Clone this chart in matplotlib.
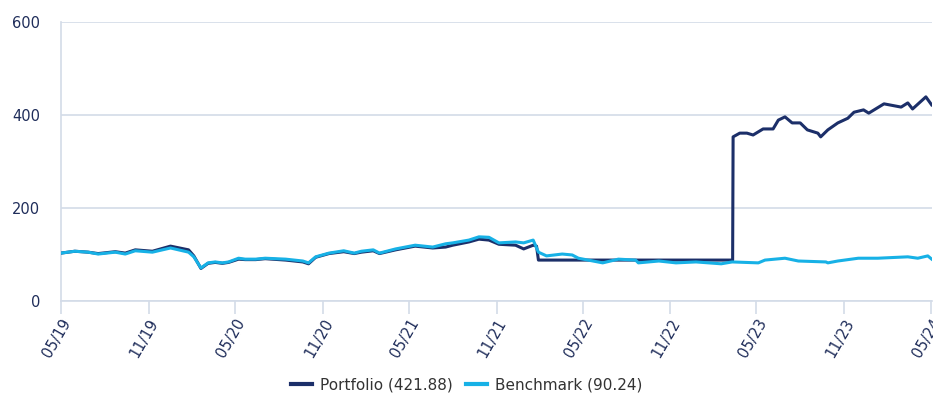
import matplotlib.pyplot as plt
import pandas as pd

# Benchmark index level (rebased to 100)
bench_dates = ['2019-05-01', '2019-05-30', '2019-06-27', '2019-07-18', '2019-08-23',
               '2019-09-13', '2019-10-04', '2019-11-09', '2019-12-17', '2020-01-24',
               '2020-02-04', '2020-02-19', '2020-03-05', '2020-03-20', '2020-04-04',
               '2020-04-17', '2020-05-08', '2020-05-22', '2020-06-13', '2020-07-03',
               '2020-08-15', '2020-09-20', '2020-10-02', '2020-10-17', '2020-11-14',
               '2020-12-15', '2021-01-06', '2021-01-21', '2021-02-15', '2021-02-28',
               '2021-04-03', '2021-05-14', '2021-06-20', '2021-07-17', '2021-08-01',
               '2021-09-04', '2021-09-25', '2021-10-16', '2021-11-06', '2021-12-11',
               '2021-12-28', '2022-01-17', '2022-01-28', '2022-02-14', '2022-03-19',
               '2022-04-09', '2022-04-22', '2022-06-12', '2022-07-15', '2022-08-20',
               '2022-08-26', '2022-10-08', '2022-11-13', '2022-12-25', '2023-02-16',
               '2023-03-11', '2023-05-05', '2023-05-19', '2023-06-30', '2023-07-28',
               '2023-09-24', '2023-09-28', '2023-10-19', '2023-12-01', '2024-01-11',
               '2024-03-14', '2024-04-04', '2024-04-25', '2024-05-03']
bench_vals = [103, 107, 105, 101, 105, 101, 108, 105, 114, 105,
              95, 71, 82, 84, 82, 84, 92, 90, 90, 92,
              90, 86, 82, 95, 103, 108, 103, 107, 110, 103,
              112, 120, 116, 123, 125, 131, 138, 137, 125, 127,
              125, 131, 105, 97, 101, 99, 92, 82, 90, 88,
              82, 86, 82, 84, 80, 84, 82, 88, 92, 86,
              84, 82, 86, 92, 92, 95, 92, 97, 90.24]

# Portfolio level (rebased to 100)
port_dates = ['2019-05-01', '2019-05-30', '2019-06-27', '2019-07-18', '2019-08-23',
              '2019-09-13', '2019-10-04', '2019-11-09', '2019-12-17', '2020-01-24',
              '2020-02-04', '2020-02-19', '2020-03-05', '2020-03-20', '2020-04-04',
              '2020-04-17', '2020-05-08', '2020-05-22', '2020-06-13', '2020-07-03',
              '2020-08-15', '2020-09-20', '2020-10-02', '2020-10-17', '2020-11-14',
              '2020-12-15', '2021-01-06', '2021-01-21', '2021-02-15', '2021-02-28',
              '2021-04-03', '2021-05-14', '2021-06-20', '2021-07-17', '2021-08-01',
              '2021-09-04', '2021-09-25', '2021-10-16', '2021-11-06', '2021-12-11',
              '2021-12-28', '2022-01-17', '2022-01-24', '2022-01-28', '2023-03-12',
              '2023-03-13', '2023-03-27', '2023-04-11', '2023-04-24', '2023-05-15',
              '2023-06-05', '2023-06-16', '2023-06-30', '2023-07-15', '2023-08-01',
              '2023-08-16', '2023-09-07', '2023-09-13', '2023-09-28', '2023-10-19',
              '2023-11-09', '2023-11-22', '2023-12-12', '2023-12-23', '2024-01-24',
              '2024-02-29', '2024-03-14', '2024-03-24', '2024-04-21', '2024-05-03']
port_vals = [103, 107, 105, 102, 106, 103, 110, 107, 118, 110,
             97, 70, 81, 83, 81, 83, 90, 89, 89, 91,
             88, 84, 80, 94, 102, 106, 102, 105, 108, 102,
             110, 118, 114, 116, 120, 127, 133, 131, 122, 120,
             112, 120, 118, 88, 88,
             353, 361, 361, 357, 370, 370, 389, 396, 383, 383,
             368, 361, 353, 368, 383, 393, 406, 411, 404, 424,
             417, 426, 413, 439, 421.88]

tick_dates = ['2019-05-01', '2019-11-01', '2020-05-01', '2020-11-01', '2021-05-01',
              '2021-11-01', '2022-05-01', '2022-11-01', '2023-05-01', '2023-11-01',
              '2024-05-01']
y_ticks = [0, 200, 400, 600]

navy = '#1c2f69'
cyan = '#17b1e6'
grid_col = '#d3dbe8'
text_col = '#1f2d5a'

fig = plt.figure(figsize=(9.33, 4.0), dpi=100)
ax = fig.add_axes([0.0654, 0.2475, 0.9336, 0.6975])

ax.plot(pd.to_datetime(port_dates), port_vals, color=navy, lw=2.2,
        label='Portfolio ({:.2f})'.format(port_vals[-1]), zorder=3)
ax.plot(pd.to_datetime(bench_dates), bench_vals, color=cyan, lw=2.2,
        label='Benchmark ({:.2f})'.format(bench_vals[-1]), zorder=3)

ax.set_ylim(0, 600)
ax.set_xlim(pd.Timestamp('2019-05-01'), pd.Timestamp('2024-05-04'))
ax.set_yticks(y_ticks)
ax.grid(axis='y', color=grid_col, lw=1.2, zorder=0)

ticks = pd.to_datetime(tick_dates)
ax.set_xticks(ticks)
ax.set_xticklabels([t.strftime('%m/%y') for t in ticks], rotation=60,
                   ha='right', rotation_mode='anchor')

for side in ['top', 'right']:
    ax.spines[side].set_visible(False)
ax.spines['left'].set_color(grid_col)
ax.spines['bottom'].set_color(grid_col)
ax.spines['left'].set_linewidth(1.2)
ax.spines['bottom'].set_linewidth(1.2)

ax.tick_params(axis='y', length=0, pad=15, labelsize=10.5, labelcolor=text_col)
ax.tick_params(axis='x', length=9, width=1.2, color=grid_col, pad=2,
               labelsize=10.5, labelcolor=text_col)

leg = fig.legend(loc='center', bbox_to_anchor=(0.5, 0.038), ncol=2, frameon=False,
                 fontsize=11, handlelength=1.4, handletextpad=0.5, columnspacing=0.9)
for line in leg.get_lines():
    line.set_linewidth(3)
for t in leg.get_texts():
    t.set_color('#333333')

fig.savefig('out.png', dpi=100)
